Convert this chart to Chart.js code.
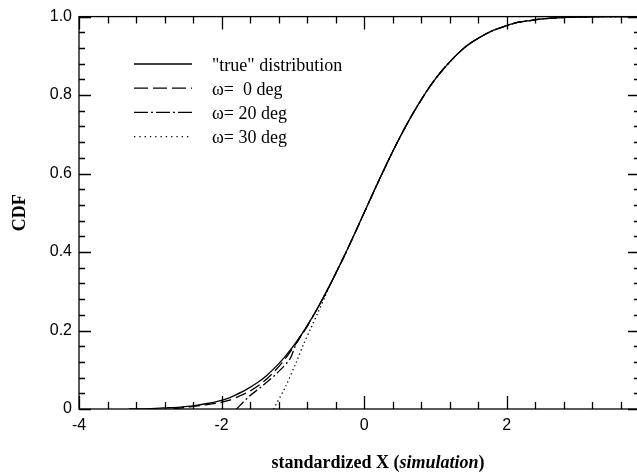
<!DOCTYPE html>
<html>
<head>
<meta charset="utf-8">
<script src="https://cdn.jsdelivr.net/npm/chart.js@4/dist/chart.umd.min.js"></script>
<style>
  html, body { margin: 0; padding: 0; background: #fff; overflow: hidden; width: 637px; height: 475px; }
  #chart { display: block; }
</style>
</head>
<body>
<canvas id="chart" width="640" height="475"></canvas>
<script>
// "true" distribution
const xTrue = [-3.3, -3.0, -2.77, -2.58, -2.4, -2.2, -2.07, -1.9, -1.8, -1.65, -1.5, -1.37, -1.2, -1.09, -0.95, -0.8, -0.65, -0.48, -0.3, -0.15, 0.0, 0.15, 0.32, 0.45, 0.6, 0.75, 0.93, 1.1, 1.3, 1.45, 1.63, 1.8, 2.0, 2.15, 2.33, 2.5, 2.7, 3.0, 3.4, 3.87];
const yTrue = [0, 0.001, 0.003, 0.005, 0.008, 0.014, 0.019, 0.028, 0.036, 0.05, 0.067, 0.085, 0.115, 0.138, 0.171, 0.212, 0.258, 0.316, 0.382, 0.44, 0.5, 0.56, 0.626, 0.674, 0.726, 0.773, 0.824, 0.864, 0.903, 0.927, 0.948, 0.964, 0.977, 0.985, 0.99, 0.994, 0.997, 0.999, 1.0, 1.0];

// lower tails where the simulated curves leave the true one
const x0 = [-2.68, -2.5, -2.3, -2.07, -1.9, -1.75, -1.6, -1.45, -1.3, -1.15, -1.0, -0.8];
const y0 = [0, 0.004, 0.009, 0.0145, 0.022, 0.033, 0.046, 0.064, 0.088, 0.118, 0.155, 0.21];
const x20 = [-1.79, -1.62, -1.44, -1.23, -1.04, -0.95];
const y20 = [0, 0.031, 0.057, 0.09, 0.128, 0.168];
const x30 = [-1.27, -1.1, -0.95, -0.85, -0.75, -0.65, -0.55, -0.45];
const y30 = [0, 0.058, 0.12, 0.165, 0.205, 0.245, 0.286, 0.327];

const labels = ['"true" distribution', 'ω=  0 deg', 'ω= 20 deg', 'ω= 30 deg'];
const xTickLabels = [-4, -2, 0, 2];
const yTickLabels = [0, 0.2, 0.4, 0.6, 0.8, 1.0];

function toPoints(xs, ys) {
    return xs.map((x, i) => ({ x: x, y: ys[i] }));
}

// tail points, then the true curve after the tail ends
function withTail(xs, ys) {
    const last = xs[xs.length - 1];
    const pts = toPoints(xs, ys);
    for (let i = 0; i < xTrue.length; i++) {
        if (xTrue[i] > last) pts.push({ x: xTrue[i], y: yTrue[i] });
    }
    return pts;
}

const frame = {
    id: 'frame',
    afterDraw(chart) {
        const ctx = chart.ctx;
        const a = chart.chartArea;
        const xs = chart.scales.x;
        const ys = chart.scales.y;
        ctx.save();
        ctx.strokeStyle = '#000';
        ctx.lineWidth = 1.3;
        ctx.strokeRect(a.left, a.top, a.right - a.left, a.bottom - a.top);

        // inward ticks, x every 0.4 (long at even integers)
        ctx.beginPath();
        for (let k = 0; k <= 20; k++) {
            const v = -4 + k * 0.4;
            if (v > xs.max) break;
            const px = Math.round(xs.getPixelForValue(v)) + 0.5;
            const len = (k % 5 === 0) ? 13 : 7;
            ctx.moveTo(px, a.bottom); ctx.lineTo(px, a.bottom - len);
            ctx.moveTo(px, a.top); ctx.lineTo(px, a.top + len);
        }
        // y every 0.04 (long at 0.2 steps)
        for (let k = 0; k <= 25; k++) {
            const v = k * 0.04;
            const py = Math.round(ys.getPixelForValue(v)) + 0.5;
            const len = (k % 5 === 0) ? 12 : 6;
            ctx.moveTo(a.left, py); ctx.lineTo(a.left + len, py);
            ctx.moveTo(a.right, py); ctx.lineTo(a.right - len, py);
        }
        ctx.stroke();

        // legend inside the plot
        ctx.font = '18px "Liberation Serif"';
        ctx.fillStyle = '#000';
        ctx.textBaseline = 'middle';
        chart.data.datasets.forEach((ds, i) => {
            const y = 64 + i * 24.2;
            ctx.beginPath();
            ctx.setLineDash(ds.legendDash || []);
            ctx.lineWidth = ds.borderWidth;
            ctx.moveTo(134, y); ctx.lineTo(192, y);
            ctx.stroke();
            ctx.setLineDash([]);
            ctx.fillText(ds.label, 212, y + 2);
        });

        // axis titles
        const p1 = 'standardized X (', p2 = 'simulation', p3 = ')';
        const fb = 'bold 18px "Liberation Serif"';
        const fi = 'italic bold 18px "Liberation Serif"';
        ctx.font = fb; const w1 = ctx.measureText(p1).width; const w3 = ctx.measureText(p3).width;
        ctx.font = fi; const w2 = ctx.measureText(p2).width;
        let tx = 378 - (w1 + w2 + w3) / 2;
        ctx.textAlign = 'left';
        ctx.font = fb; ctx.fillText(p1, tx, 463);
        ctx.font = fi; ctx.fillText(p2, tx + w1, 463);
        ctx.font = fb; ctx.fillText(p3, tx + w1 + w2, 463);

        ctx.translate(20, (a.top + a.bottom) / 2);
        ctx.rotate(-Math.PI / 2);
        ctx.textAlign = 'center';
        ctx.font = fb;
        ctx.fillText('CDF', 0, 0);
        ctx.restore();
    }
};

const lineStyle = { borderColor: '#000', borderWidth: 1.3, pointRadius: 0, showLine: true, fill: false, tension: 0.3 };

new Chart(document.getElementById('chart'), {
    type: 'scatter',
    data: {
        datasets: [
            Object.assign({ label: labels[0], data: toPoints(xTrue, yTrue) }, lineStyle),
            Object.assign({ label: labels[1], data: withTail(x0, y0), borderDash: [11, 5], legendDash: [14, 5] }, lineStyle),
            Object.assign({ label: labels[2], data: withTail(x20, y20), borderDash: [10, 3, 2, 3], legendDash: [14, 3, 2, 3] }, lineStyle),
            Object.assign({ label: labels[3], data: withTail(x30, y30), borderDash: [1.3, 3], legendDash: [1.3, 4] }, lineStyle)
        ]
    },
    options: {
        responsive: false,
        animation: false,
        layout: { padding: { top: 16, right: 0, left: 0, bottom: 0 } },
        plugins: { legend: { display: false }, tooltip: { enabled: false } },
        scales: {
            x: {
                type: 'linear',
                min: -4,
                max: 3.87,
                grid: { display: false, drawTicks: false },
                border: { display: false },
                afterFit: s => { s.height = 66; },
                afterBuildTicks: s => { s.ticks = xTickLabels.map(v => ({ value: v })); },
                ticks: {
                    padding: 7,
                    color: '#000',
                    font: { family: '"Liberation Sans", Arial', size: 16 },
                    callback: v => String(v)
                }
            },
            y: {
                type: 'linear',
                min: 0,
                max: 1,
                grid: { display: false, drawTicks: false },
                border: { display: false },
                afterFit: s => { s.width = 79; },
                afterBuildTicks: s => { s.ticks = yTickLabels.map(v => ({ value: v })); },
                ticks: {
                    padding: 7,
                    color: '#000',
                    font: { family: '"Liberation Sans", Arial', size: 16 },
                    callback: v => (v === 0 ? '0' : v.toFixed(1))
                }
            }
        }
    },
    plugins: [frame]
});
</script>
</body>
</html>
